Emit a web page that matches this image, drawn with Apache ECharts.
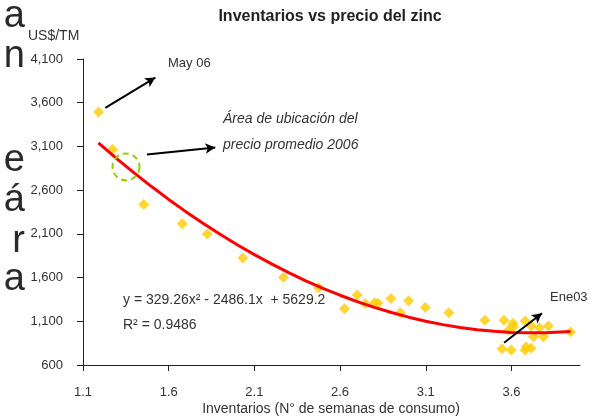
<!DOCTYPE html>
<html><head><meta charset="utf-8">
<script src="https://cdn.jsdelivr.net/npm/echarts@6/dist/echarts.min.js"></script>
<style>html,body{margin:0;padding:0;background:#fff}#c{width:601px;height:420px}</style>
</head><body><div id="c"></div>
<script>
// Tick labels
const xTicks = [1.1, 1.6, 2.1, 2.6, 3.1, 3.6];
const yTicks = [600, 1100, 1600, 2100, 2600, 3100, 3600, 4100];
// Scatter: inventories (weeks of consumption) vs zinc price (US$/TM)
const invWeeks = [1.191,1.273,1.454,1.679,1.825,2.033,2.270,2.475,2.626,2.700,2.747,2.801,2.821,2.897,2.951,3.000,3.097,3.235,3.445,3.556,3.609,3.612,3.583,3.681,3.716,3.764,3.816,3.945,3.729,3.787,3.545,3.599,3.686,3.715,3.680];
const zincPrice = [3495,3065,2437,2215,2097,1823,1602,1483,1243,1400,1301,1312,1305,1362,1198,1335,1259,1198,1111,1111,1077,1038,1000,1103,1046,1026,1046,977,923,923,786,771,809,791,771];
// Trend line
const trendWeeks = [1.19,1.3,1.4,1.5,1.6,1.7,1.8,1.9,2.0,2.1,2.2,2.3,2.4,2.5,2.6,2.7,2.8,2.9,3.0,3.1,3.2,3.3,3.4,3.5,3.6,3.7,3.8,3.945];
const trendPrice = [3140,2955,2794,2641,2494,2354,2221,2095,1975,1862,1756,1656,1563,1477,1398,1325,1259,1200,1147,1101,1062,1030,1004,985,973,968,969,983];

const FF = 'Liberation Sans, Arial, sans-serif';
const TXT = '#333';
const chart = echarts.init(document.getElementById('c'), null, {renderer:'canvas'});

const scatterData = invWeeks.map((x,i)=>[x, zincPrice[i]]);
const trendData = trendWeeks.map((x,i)=>[x, trendPrice[i]]);

// cropped paragraph text at the left edge
const leftFrag = [['a',17],['n',57],['e',161],['á',201],['r',242],['a',280]];

chart.setOption({
  animation:false,
  backgroundColor:'#fff',
  grid:{left:83, right:21, top:59, bottom:55, containLabel:false, outerBoundsMode:'none'},
  xAxis:{
    type:'value', min:1.1, max:4.0,
    axisLine:{show:true, lineStyle:{color:'#222', width:1}},
    axisTick:{show:true, inside:false, length:6, customValues:xTicks, lineStyle:{color:'#222'}},
    axisLabel:{customValues:xTicks, formatter:v=>Number(v).toFixed(1), margin:21, fontSize:13, color:TXT, fontFamily:FF},
    splitLine:{show:false}
  },
  yAxis:{
    type:'value', min:600, max:4100,
    axisLine:{show:true, lineStyle:{color:'#222', width:1}},
    axisTick:{show:true, inside:false, length:6, customValues:yTicks, lineStyle:{color:'#222'}},
    axisLabel:{customValues:yTicks, formatter:v=>Number(v).toLocaleString('en-US'), margin:20, fontSize:13, color:TXT, fontFamily:FF},
    splitLine:{show:false}
  },
  series:[
    {
      type:'scatter', data:scatterData, symbol:'diamond', symbolSize:11, clip:false, z:2,
      itemStyle:{color:'#FFCC00'},
      markPoint:{
        silent:true, symbol:'circle', symbolSize:27,
        itemStyle:{color:'rgba(0,0,0,0)', borderColor:'#99CC00', borderWidth:2, borderType:[6,4]},
        label:{show:false},
        data:[{coord:[1.351, 2866]}]
      }
    },
    {
      type:'line', data:trendData, showSymbol:false, smooth:false, z:3,
      lineStyle:{color:'#FF0000', width:3},
      markLine:{
        silent:true, z:5, symbol:['none','arrow'], symbolSize:[8,10],
        lineStyle:{color:'#000', width:2, type:'solid'},
        label:{show:false},
        data:[
          [{coord:[1.230,3541]},{coord:[1.522,3888]}],
          [{coord:[1.473,3008]},{coord:[1.872,3088]}],
          [{coord:[3.557,855]},{coord:[3.778,1191]}]
        ]
      }
    }
  ],
  graphic:[
    {type:'text', x:330, y:17, style:{text:'Inventarios vs precio del zinc', font:'bold 16px '+FF, fill:'#222', align:'center', verticalAlign:'middle'}},
    {type:'text', x:28, y:36, style:{text:'US$/TM', font:'14px '+FF, fill:TXT, align:'left', verticalAlign:'middle'}},
    {type:'text', x:168, y:63, style:{text:'May 06', font:'13px '+FF, fill:TXT, align:'left', verticalAlign:'middle'}},
    {type:'text', x:223, y:119, style:{text:'Área de ubicación del', font:'italic 14px '+FF, fill:TXT, align:'left', verticalAlign:'middle'}},
    {type:'text', x:223, y:145, style:{text:'precio promedio 2006', font:'italic 14px '+FF, fill:TXT, align:'left', verticalAlign:'middle'}},
    {type:'text', x:123, y:300, style:{text:'y = 329.26x² - 2486.1x  + 5629.2', font:'14px '+FF, fill:TXT, align:'left', verticalAlign:'middle'}},
    {type:'text', x:123, y:325, style:{text:'R² = 0.9486', font:'14px '+FF, fill:TXT, align:'left', verticalAlign:'middle'}},
    {type:'text', x:550, y:297, style:{text:'Ene03', font:'13px '+FF, fill:TXT, align:'left', verticalAlign:'middle'}},
    {type:'text', x:331, y:409, style:{text:'Inventarios (N° de semanas de consumo)', font:'14px '+FF, fill:TXT, align:'center', verticalAlign:'middle'}}
  ].concat(leftFrag.map(f=>({type:'text', x:25, y:f[1], style:{text:f[0], font:'38px '+FF, fill:'#2a2a2a', align:'right', verticalAlign:'middle'}})))
});
</script></body></html>
